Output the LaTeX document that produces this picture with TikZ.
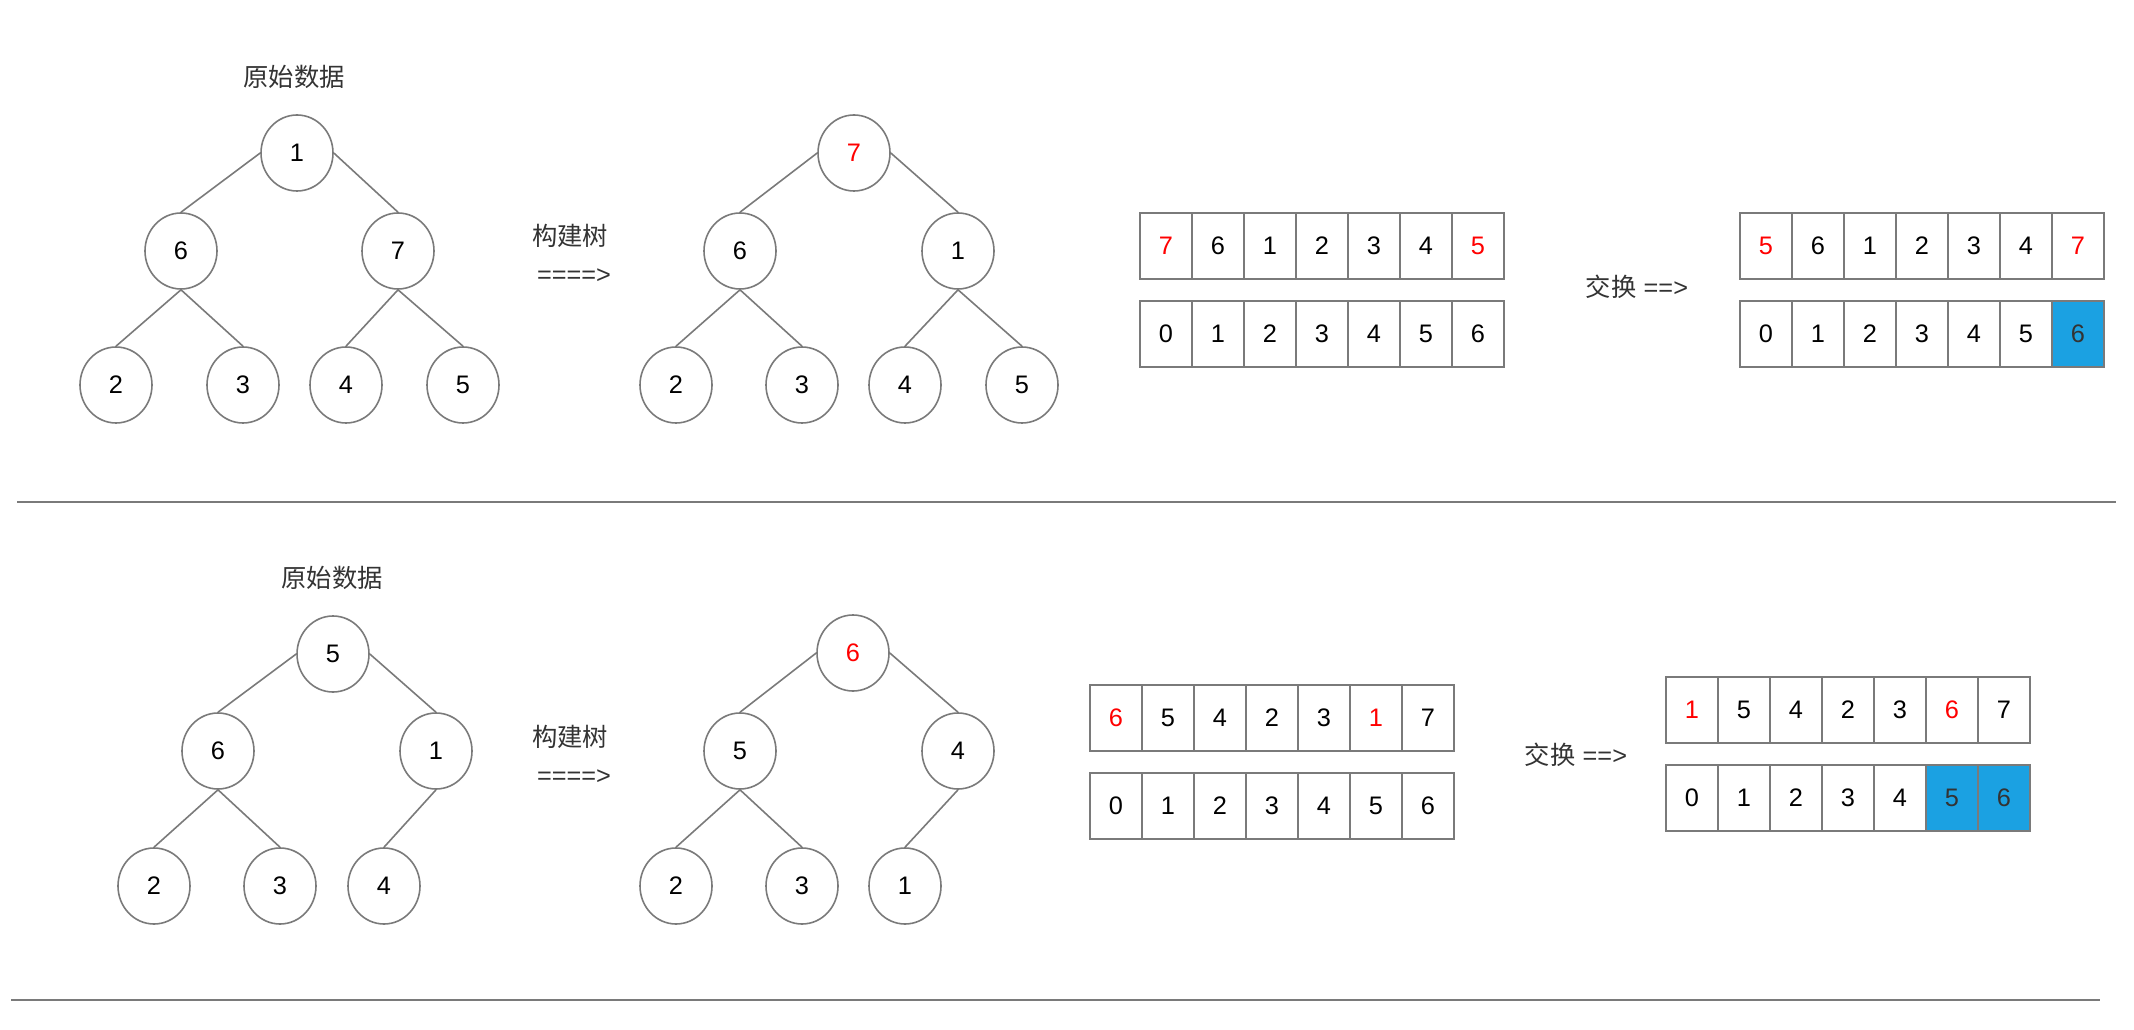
\documentclass[tikz,border=0pt]{standalone}
\usepackage{fontspec}
\setmainfont{Liberation Sans}
\newfontfamily\cjk{Noto Sans CJK SC}
\usetikzlibrary{shapes.geometric}
\definecolor{edgegray}{HTML}{7A7A7A}
\definecolor{cellblue}{HTML}{1BA1E2}
\definecolor{numred}{HTML}{FF0000}
\definecolor{labelgray}{HTML}{333333}
\begin{document}
\begin{tikzpicture}[x=0.75pt,y=-0.75pt,
  treenode/.style={ellipse,draw=edgegray,line width=1.2pt,minimum width=54pt,minimum height=57pt,inner sep=0pt,font=\fontsize{19}{19}\selectfont},
  cell/.style={rectangle,draw=edgegray,line width=1.6pt,minimum width=39pt,minimum height=49.5pt,inner sep=0pt,font=\fontsize{19}{19}\selectfont},
  tedge/.style={draw=edgegray,line width=1.2pt},
  txtlabel/.style={font=\fontsize{19}{23}\selectfont,text=labelgray,inner sep=0pt},
  sepline/.style={draw=edgegray,line width=1.5pt},
  hot/.style={text=numred},
  plain/.style={},
  done/.style={fill=cellblue,text=labelgray}
]
\useasboundingbox (0,0) rectangle (2134,1030);

% ---------- top section ----------
\node[txtlabel] (lab1) at (294,77) {\cjk 原始数据};
\node[treenode] (t1r) at (297,153) {1};
\node[treenode] (t1a) at (181,251) {6};
\node[treenode] (t1b) at (398,251) {7};
\node[treenode] (t1c) at (116,385) {2};
\node[treenode] (t1d) at (243,385) {3};
\node[treenode] (t1e) at (346,385) {4};
\node[treenode] (t1f) at (463,385) {5};
\draw[tedge] (t1r.west) -- (t1a.north);
\draw[tedge] (t1r.east) -- (t1b.north);
\draw[tedge] (t1a.south) -- (t1c.north);
\draw[tedge] (t1a.south) -- (t1d.north);
\draw[tedge] (t1b.south) -- (t1e.north);
\draw[tedge] (t1b.south) -- (t1f.north);

\node[txtlabel] (bt1) at (570,236) {\cjk 构建树};
\node[txtlabel] (ar1) at (574,276) {====>};

\node[treenode,hot] (t2r) at (854,153) {7};
\node[treenode] (t2a) at (740,251) {6};
\node[treenode] (t2b) at (958,251) {1};
\node[treenode] (t2c) at (676,385) {2};
\node[treenode] (t2d) at (802,385) {3};
\node[treenode] (t2e) at (905,385) {4};
\node[treenode] (t2f) at (1022,385) {5};
\draw[tedge] (t2r.west) -- (t2a.north);
\draw[tedge] (t2r.east) -- (t2b.north);
\draw[tedge] (t2a.south) -- (t2c.north);
\draw[tedge] (t2a.south) -- (t2d.north);
\draw[tedge] (t2b.south) -- (t2e.north);
\draw[tedge] (t2b.south) -- (t2f.north);

\foreach \v/\s [count=\i from 0] in {7/hot,6/plain,1/plain,2/plain,3/plain,4/plain,5/hot}
  \node[cell,\s] (a1t\i) at ({1166+52*\i},246) {\v};
\foreach \v [count=\i from 0] in {0,1,2,3,4,5,6}
  \node[cell] (a1b\i) at ({1166+52*\i},334) {\v};

\node[txtlabel] (sw1) at (1637,287) {{\cjk 交换} ==>};

\foreach \v/\s [count=\i from 0] in {5/hot,6/plain,1/plain,2/plain,3/plain,4/plain,7/hot}
  \node[cell,\s] (a2t\i) at ({1766+52*\i},246) {\v};
\foreach \v/\s [count=\i from 0] in {0/plain,1/plain,2/plain,3/plain,4/plain,5/plain,6/done}
  \node[cell,\s] (a2b\i) at ({1766+52*\i},334) {\v};

\coordinate (s1a) at (17,502);
\coordinate (s1b) at (2116,502);
\draw[sepline] (s1a) -- (s1b);

% ---------- bottom section ----------
\node[txtlabel] (lab2) at (332,578) {\cjk 原始数据};
\node[treenode] (t3r) at (333,654) {5};
\node[treenode] (t3a) at (218,751) {6};
\node[treenode] (t3b) at (436,751) {1};
\node[treenode] (t3c) at (154,886) {2};
\node[treenode] (t3d) at (280,886) {3};
\node[treenode] (t3e) at (384,886) {4};
\draw[tedge] (t3r.west) -- (t3a.north);
\draw[tedge] (t3r.east) -- (t3b.north);
\draw[tedge] (t3a.south) -- (t3c.north);
\draw[tedge] (t3a.south) -- (t3d.north);
\draw[tedge] (t3b.south) -- (t3e.north);

\node[txtlabel] (bt2) at (570,737) {\cjk 构建树};
\node[txtlabel] (ar2) at (574,777) {====>};

\node[treenode,hot] (t4r) at (853,653) {6};
\node[treenode] (t4a) at (740,751) {5};
\node[treenode] (t4b) at (958,751) {4};
\node[treenode] (t4c) at (676,886) {2};
\node[treenode] (t4d) at (802,886) {3};
\node[treenode] (t4e) at (905,886) {1};
\draw[tedge] (t4r.west) -- (t4a.north);
\draw[tedge] (t4r.east) -- (t4b.north);
\draw[tedge] (t4a.south) -- (t4c.north);
\draw[tedge] (t4a.south) -- (t4d.north);
\draw[tedge] (t4b.south) -- (t4e.north);

\foreach \v/\s [count=\i from 0] in {6/hot,5/plain,4/plain,2/plain,3/plain,1/hot,7/plain}
  \node[cell,\s] (a3t\i) at ({1116+52*\i},718) {\v};
\foreach \v [count=\i from 0] in {0,1,2,3,4,5,6}
  \node[cell] (a3b\i) at ({1116+52*\i},806) {\v};

\node[txtlabel] (sw2) at (1576,755) {{\cjk 交换} ==>};

\foreach \v/\s [count=\i from 0] in {1/hot,5/plain,4/plain,2/plain,3/plain,6/hot,7/plain}
  \node[cell,\s] (a4t\i) at ({1692+52*\i},710) {\v};
\foreach \v/\s [count=\i from 0] in {0/plain,1/plain,2/plain,3/plain,4/plain,5/done,6/done}
  \node[cell,\s] (a4b\i) at ({1692+52*\i},798) {\v};

\coordinate (s2a) at (11,1000);
\coordinate (s2b) at (2100,1000);
\draw[sepline] (s2a) -- (s2b);
\end{tikzpicture}
\end{document}
